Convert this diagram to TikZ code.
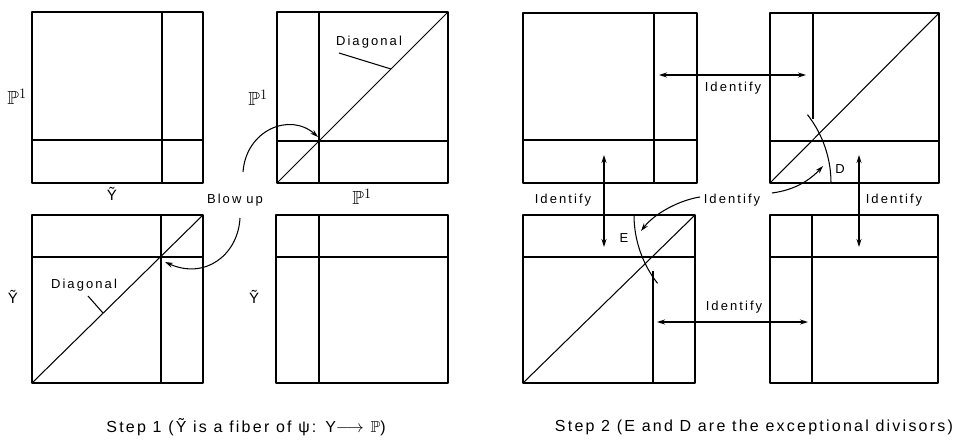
\documentclass[tikz,border=0pt]{standalone}
\usepackage{amssymb}
\usepackage{fontspec}
\setmainfont{Liberation Sans}
\newfontfamily\lblfont{Liberation Sans}[LetterSpace=16]
\newfontfamily\capfont{Liberation Sans}[LetterSpace=14]
\usetikzlibrary{arrows.meta}
\begin{document}
\begin{tikzpicture}[x=1pt,y=-1pt, line width=1.2pt, line join=round,
  lbl/.style={inner sep=0pt, font=\lblfont\fontsize{13}{15}\selectfont},
  ylbl/.style={inner sep=0pt, font=\fontsize{15}{18}\selectfont},
  pone/.style={inner sep=0pt, font=\fontsize{19}{22}\selectfont},
  captext/.style={inner sep=0pt, font=\capfont\fontsize{16}{19}\selectfont},
  tipone/.style={-{Stealth[length=8pt,width=5pt]}},
  tiptwo/.style={{Stealth[length=8pt,width=5pt]}-{Stealth[length=8pt,width=5pt]}},
  inner/.style={line width=1.05pt}]
\useasboundingbox (0,0) rectangle (959,442);
\fill[white] (0,0) rectangle (959,442);

% ---------- Step 1 ----------
% top-left square
\draw (32,12) rectangle (203,183);
\draw[inner] (162,12) -- (162,183) (32,140) -- (203,140);
% top-right square
\draw (277,12) rectangle (448,183);
\draw[inner] (319,12) -- (319,183) (277,141) -- (448,141);
\draw[inner] (277,183) -- (448,12);
% bottom-left square
\draw (32,215) rectangle (203,383);
\draw[inner] (161,215) -- (161,383) (32,257) -- (203,257);
\draw[inner] (32,383) -- (203,215);
% bottom-right square
\draw (276,215) rectangle (448,383);
\draw[inner] (319,215) -- (319,383) (276,257) -- (448,257);

\node[pone] (pa) at (17,97) {$\mathbb{P}^{1}$};
\node[ylbl] (ya) at (112,194) {\~{Y}};
\node[pone] (pb) at (258,98) {$\mathbb{P}^{1}$};
\node[pone] (pb2) at (362,197) {$\mathbb{P}^{1}$};
\node[ylbl] (yc) at (13,297) {\~{Y}};
\node[ylbl] (yd) at (254,297) {\~{Y}};
\node[lbl] (blow) at (235,200) {Blow\hspace{5pt}up};
\node[lbl] (diagb) at (369,42) {Diagonal};
\node[lbl] (diagc) at (84,285) {Diagonal};
\draw[inner] (339,53) -- (391,69);
\draw[inner] (88,296) -- (103,313);

\coordinate (b1s) at (243,172);
\coordinate (b1e) at (318,137);
\draw[inner,tipone] (b1s) .. controls (246,130) and (290,112) .. (b1e);
\coordinate (b2s) at (240,218);
\coordinate (b2e) at (165,262);
\draw[inner,tipone] (b2s) .. controls (238,255) and (205,280) .. (b2e);

\node[captext] (cap1) at (246,427) {Step 1 (\~{Y} is a fiber of ψ: Y$\longrightarrow$ $\mathbb{P}$)};

% ---------- Step 2 ----------
% top-left square
\draw (523,13) rectangle (697,183);
\draw[inner] (654,13) -- (654,183) (523,140) -- (697,140);
% top-right square
\draw (770,13) rectangle (939,183);
\draw[inner] (813,13) -- (813,119) (770,141) -- (939,141);
\draw[inner] (770,183) -- (939,13);
\draw[inner] (831,183) arc[start angle=0, end angle=-38, radius=111];
% bottom-left square
\draw (523,215) rectangle (695,383);
\draw[inner] (653,271) -- (653,383) (523,257) -- (695,257);
\draw[inner] (523,383) -- (695,215);
\draw[inner] (634,215) arc[start angle=180, end angle=142, radius=111];
% bottom-right square
\draw (770,215) rectangle (938,383);
\draw[inner] (812,215) -- (812,383) (770,257) -- (938,257);

\node[lbl] (dl) at (840,169) {D};
\node[lbl] (el) at (624,238) {E};
\node[lbl] (id1) at (733,88) {Identify};
\node[lbl] (id2) at (563,200) {Identify};
\node[lbl] (id3) at (732,200) {Identify};
\node[lbl] (id4) at (894,200) {Identify};
\node[lbl] (id5) at (734,307) {Identify};

\coordinate (h1a) at (659,75);
\coordinate (h1b) at (806,75);
\draw[inner,tiptwo] (h1a) -- (h1b);
\coordinate (v1a) at (604,155);
\coordinate (v1b) at (604,247);
\draw[inner,tiptwo] (v1a) -- (v1b);
\coordinate (v2a) at (859,155);
\coordinate (v2b) at (859,247);
\draw[inner,tiptwo] (v2a) -- (v2b);
\coordinate (h2a) at (657,322);
\coordinate (h2b) at (808,322);
\draw[inner,tiptwo] (h2a) -- (h2b);

\coordinate (cd) at (823,166);
\draw[inner,tipone] (772,193) .. controls (795,190) and (810,180) .. (cd);
\coordinate (ce) at (641,231);
\draw[inner,tipone] (700,197) .. controls (680,200) and (655,213) .. (ce);

\node[captext] (cap2) at (754,427) {Step 2 (E and D are the exceptional divisors)};
\end{tikzpicture}
\end{document}
